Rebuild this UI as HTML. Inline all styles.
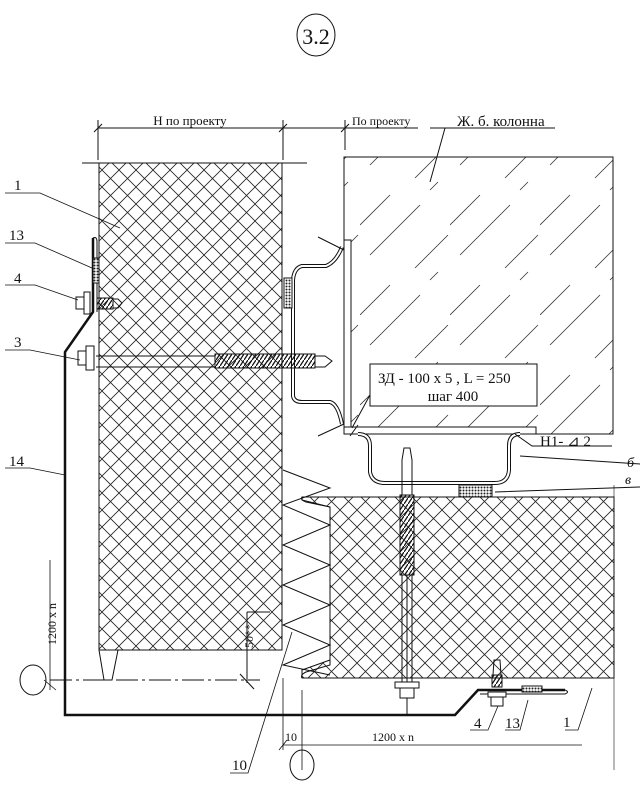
<!DOCTYPE html>
<html><head><meta charset="utf-8"><style>
html,body{margin:0;padding:0;background:#fff;width:644px;height:785px;overflow:hidden}
svg{display:block}
text{font-family:"Liberation Serif",serif;fill:#111}
</style></head><body>
<svg width="644" height="785" viewBox="0 0 644 785" xmlns="http://www.w3.org/2000/svg">
<defs>
<pattern id="x" width="17" height="17" patternUnits="userSpaceOnUse">
<path d="M0 0L17 17M17 0L0 17" stroke="#222" stroke-width="0.8"/>
</pattern>
<pattern id="h" width="90" height="90" patternUnits="userSpaceOnUse">
<path d="M10 75L60 25M55 88L88 55M0 45L30 15M70 10L78 2" stroke="#333" stroke-width="0.8"/>
</pattern>
<pattern id="g" width="3" height="3" patternUnits="userSpaceOnUse">
<rect width="3" height="3" fill="#fff"/><circle cx="1.5" cy="1.5" r="1" fill="#222"/>
</pattern>
<pattern id="t" width="4" height="6" patternUnits="userSpaceOnUse">
<path d="M0 6L4 0" stroke="#111" stroke-width="1.3"/>
</pattern>
</defs>
<g stroke="#111" fill="none" stroke-width="1">
<ellipse cx="316" cy="35" rx="19" ry="21"/>
<path d="M98 128H350M282 128H345M82 163H307M98 120V160M283 120V160M345 120V150M94 132L102 124M279 132L287 124M341 132L349 124M345 128H418"/>
<rect x="344" y="157" width="269" height="277" fill="url(#h)"/>
<path d="M430 128H555M445 128L430 182"/>
<rect x="99" y="163" width="183" height="487" fill="url(#x)" stroke="#111"/>
<path d="M99 650L104 680L112 680L118 650Z" fill="#fff"/>
<rect x="344" y="240" width="7" height="188" fill="#fff"/>
<rect x="344" y="427" width="192" height="7" fill="#fff"/>
<path d="M342 247Q336 262 326 266H302Q294 268 293 280V396Q294 402 302 402H330Q338 404 342 424" stroke-width="4"/>
<path d="M342 247Q336 262 326 266H302Q294 268 293 280V396Q294 402 302 402H330Q338 404 342 424" stroke="#fff" stroke-width="2"/>
<rect x="284" y="278" width="8" height="30" fill="url(#g)"/>
<path d="M318 237L344 250M318 436L344 424"/>
<rect x="370" y="364" width="167" height="42" fill="#fff"/>
<path d="M370 395L352 428M358 425L350 436"/>
<path d="M358 434Q370 434 370 446V472Q372 483 385 483H495Q508 483 509 470V446Q509 434 520 434" stroke-width="4"/>
<path d="M358 434Q370 434 370 446V472Q372 483 385 483H495Q508 483 509 470V446Q509 434 520 434" stroke="#fff" stroke-width="2"/>
<rect x="459" y="485" width="33" height="12" fill="url(#g)"/>
<path d="M515 434L532 446H612M520 456L640 464M495 492L640 487"/>
<path d="M302 497H614V678H302V670L330 660V507L302 500Z" fill="url(#x)"/>
<path d="M302 497H614M302 678H614M302 497Q300 500 306 502L330 507V665L306 672Q300 675 302 678"/>
<path d="M614 485V770" stroke-width="0.6"/>
<path d="M283 470L330 488L283 505L330 525L283 545L330 565L283 585L330 605L283 625L330 645L283 665L330 675"/>
<path d="M50 680H260" stroke-dasharray="22 4 3 4"/>
<path d="M247 612V683M247 612H270M240 674L254 689"/>
<path d="M50 560V690M44 680L56 690" stroke-width="0.8"/>
<path d="M283 678V750M302 690V770M283 745H582M279 750L287 740" stroke-width="0.8"/>
<ellipse cx="33" cy="680" rx="13" ry="15"/>
<ellipse cx="302" cy="765" rx="12" ry="15"/>
<path d="M93 238V312L65 352V715H455L478 690H565" stroke-width="2.5"/>
<path d="M93 238Q97 236 97 242V312M565 690Q570 692 565 694H480"/>
<rect x="93" y="258" width="6" height="25" fill="url(#g)"/>
<rect x="522" y="686" width="20" height="6" fill="url(#g)"/>
<rect x="86" y="346" width="8" height="24" fill="#fff"/>
<rect x="78" y="351" width="8" height="14" fill="#fff"/>
<path d="M96 356H215M96 367H215"/>
<rect x="215" y="354" width="100" height="14" fill="url(#t)"/>
<path d="M315 356H325L332 361L325 367H315"/>
<rect x="84" y="292" width="6" height="22" fill="#fff"/>
<rect x="76" y="297" width="8" height="12" fill="#fff"/>
<rect x="97" y="298" width="16" height="11" fill="url(#t)"/>
<path d="M113 299H118L122 303L118 308H113"/>
<path d="M402 460L404 448H410L412 460V495M402 460V495"/>
<rect x="400" y="495" width="14" height="80" fill="url(#t)"/>
<path d="M402 575V682M412 575V682M407 575V715"/>
<rect x="395" y="682" width="24" height="6" fill="#fff"/>
<rect x="400" y="688" width="14" height="10" fill="#fff"/>
<path d="M493 675L494 660H500L501 675"/>
<rect x="492" y="675" width="10" height="12" fill="url(#t)"/>
<rect x="488" y="692" width="18" height="5" fill="#fff"/>
<rect x="491" y="697" width="12" height="9" fill="#fff"/>
<path d="M5 193H40L120 228M5 243H35L92 268M5 285H35L78 300M5 350H30L80 360M5 468H30L65 475" stroke-width="0.8"/>
<path d="M230 773H248L292 632M470 730H488L498 706M505 730H520L528 700M565 730H578L592 688" stroke-width="0.8"/>
</g>
<text x="316" y="44" font-size="22" text-anchor="middle">3.2</text>
<text x="190" y="125" font-size="13" text-anchor="middle">Н по проекту</text>
<text x="352" y="125" font-size="12">По проекту</text>
<text x="457" y="126" font-size="15">Ж. б. колонна</text>
<text x="378" y="383" font-size="15">ЗД  - 100 x 5 , L = 250</text>
<text x="453" y="401" font-size="15" text-anchor="middle">шаг 400</text>
<text x="540" y="446" font-size="15">Н1- ⊿ 2</text>
<text x="627" y="467" font-size="14" font-style="italic">б</text>
<text x="625" y="484" font-size="14" font-style="italic">в</text>
<text x="14" y="190" font-size="15">1</text>
<text x="9" y="240" font-size="15">13</text>
<text x="14" y="283" font-size="15">4</text>
<text x="14" y="347" font-size="15">3</text>
<text x="9" y="466" font-size="15">14</text>
<text x="232" y="770" font-size="15">10</text>
<text x="285" y="741" font-size="12">10</text>
<text x="372" y="741" font-size="12">1200 x n</text>
<text x="474" y="728" font-size="15">4</text>
<text x="505" y="728" font-size="15">13</text>
<text x="563" y="727" font-size="15">1</text>
<text transform="translate(56,645) rotate(-90)" font-size="12">1200 x n</text>
<text transform="translate(253,648) rotate(-90)" font-size="12">50**</text>
</svg>
</body></html>
